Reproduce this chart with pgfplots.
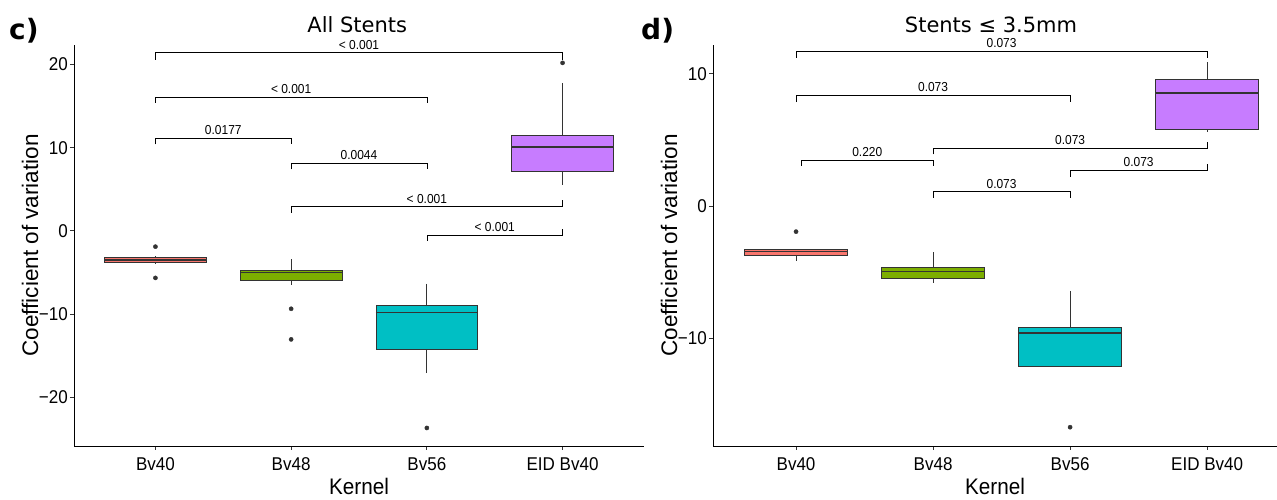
\documentclass[border=0pt]{standalone}
\usepackage{pgfplots}
\pgfplotsset{compat=1.18}
\usepgfplotslibrary{statistics}
\usepackage{fontspec}
\setmainfont[FakeStretch=0.92]{Liberation Sans}
\newfontfamily\ylfont{Liberation Sans}
\newfontfamily\titlefont{DejaVu Sans}
\definecolor{cA}{HTML}{F8766D}
\definecolor{cB}{HTML}{7CAE00}
\definecolor{cC}{HTML}{00BFC4}
\definecolor{cD}{HTML}{C77CFF}
\definecolor{gr}{HTML}{333333}
\newcommand{\pv}{\fontsize{13}{13}\selectfont}
\tikzset{pl/.style={font=\pv, anchor=base, yshift=3.5pt}}
\pgfplotsset{
  panel/.style={
    scale only axis, height=401pt, clip=false,
    axis x line*=bottom, axis y line*=left,
    axis line style={black, line width=0.8pt},
    xtick={1,2,3,4}, xticklabels={Bv40,Bv48,Bv56,EID Bv40},
    ytick={-20,-10,0,10,20}, yticklabels={−20,−10,0,10,20},
    tick style={gr, line width=0.8pt}, major tick length=4pt, tick align=outside,
    ticklabel style={font=\fontsize{18.5}{18.5}\selectfont, inner sep=1pt},
    xticklabel style={yshift=-6pt},
    yticklabel style={xshift=-1pt},
    xlabel={Kernel}, ylabel={Coefficient of variation},
    xlabel style={font=\fontsize{22.5}{22.5}\selectfont, at={(axis description cs:0.5,-0.12)}, anchor=base},
    ylabel style={font=\ylfont\fontsize{22.5}{22.5}\selectfont},
    boxplot/draw direction=y,
    boxplot/box extend=0.75, boxplot/whisker extend=0,
    boxplot/every median/.style={line width=1.6pt, draw=gr},
    boxplot/every whisker/.style={draw=gr, line width=0.8pt},
    boxplot/every box/.style={draw=gr, line width=0.8pt},
  },
  bx/.style={draw=gr, line width=0.8pt, fill=#1, mark=*, mark size=2.1pt, mark options={fill=gr, draw=gr, line width=0.4pt}},
  br/.style={black, line width=0.7pt, mark=none},
}
\begin{document}
\begin{tikzpicture}
\path[use as bounding box] (0,0) rectangle (1277pt,500pt);
% ---------- left panel ----------
\begin{axis}[panel, at={(74pt,54pt)}, anchor=south west, width=570pt,
  xmin=0.4, xmax=4.6, ymin=-25.87, ymax=22.35,
  ylabel style={at={(axis description cs:-0.077,0.5)}, anchor=center}]
\addplot[bx=cA, boxplot prepared={draw position=1, lower whisker=-3.96, lower quartile=-3.8, median=-3.47, upper quartile=-3.15, upper whisker=-3.0}] coordinates {(0,-1.9) (0,-5.66)};
\addplot[bx=cB, boxplot prepared={draw position=2, lower whisker=-6.46, lower quartile=-5.94, median=-5.0, upper quartile=-4.77, upper whisker=-3.4}] coordinates {(0,-9.37) (0,-13.05)};
\addplot[bx=cC, boxplot prepared={draw position=3, lower whisker=-17.1, lower quartile=-14.3, median=-9.8, upper quartile=-9.0, upper whisker=-6.34}] coordinates {(0,-23.7)};
\addplot[bx=cD, boxplot prepared={draw position=4, lower whisker=5.57, lower quartile=7.13, median=10.1, upper quartile=11.42, upper whisker=17.8}] coordinates {(0,20.2)};
\addplot[br] coordinates {(1,20.6) (1,21.44) (4,21.44) (4,20.6)};
\node[pl] at (axis cs:2.5,21.44) {< 0.001};
\addplot[br] coordinates {(1,15.4) (1,16.1) (3,16.1) (3,15.4)};
\node[pl] at (axis cs:2,16.1) {< 0.001};
\addplot[br] coordinates {(1,10.4) (1,11.14) (2,11.14) (2,10.4)};
\node[pl] at (axis cs:1.5,11.14) {0.0177};
\addplot[br] coordinates {(2,7.4) (2,8.1) (3,8.1) (3,7.4)};
\node[pl] at (axis cs:2.5,8.1) {0.0044};
\addplot[br] coordinates {(2,2.16) (2,2.9) (4,2.9) (4,3.7)};
\node[pl] at (axis cs:3,2.9) {< 0.001};
\addplot[br] coordinates {(3,-1.2) (3,-0.5) (4,-0.5) (4,0.25)};
\node[pl] at (axis cs:3.5,-0.5) {< 0.001};
\node[font=\titlefont\fontsize{21}{21}\selectfont, anchor=base] at (axis description cs:0.497,1.032) {All Stents};
\end{axis}
% ---------- right panel ----------
\begin{axis}[panel, at={(713pt,54pt)}, anchor=south west, width=564pt,
  xmin=0.394, xmax=4.51, ymin=-18.12, ymax=12.17,
  ytick={-10,0,10}, yticklabels={−10,0,10},
  ylabel style={at={(axis description cs:-0.078,0.5)}, anchor=center}]
\addplot[bx=cA, boxplot prepared={draw position=1, lower whisker=-4.12, lower quartile=-3.72, median=-3.42, upper quartile=-3.27, upper whisker=-3.27}] coordinates {(0,-1.93)};
\addplot[bx=cB, boxplot prepared={draw position=2, lower whisker=-5.8, lower quartile=-5.43, median=-4.95, upper quartile=-4.6, upper whisker=-3.47}] coordinates {};
\addplot[bx=cC, boxplot prepared={draw position=3, lower whisker=-12.1, lower quartile=-12.1, median=-9.57, upper quartile=-9.15, upper whisker=-6.4}] coordinates {(0,-16.7)};
\addplot[bx=cD, boxplot prepared={draw position=4, lower whisker=5.6, lower quartile=5.83, median=8.54, upper quartile=9.6, upper whisker=10.88}] coordinates {};
\addplot[br] coordinates {(1,11.2) (1,11.68) (4,11.68) (4,11.2)};
\node[pl] at (axis cs:2.5,11.68) {0.073};
\addplot[br] coordinates {(1,7.86) (1,8.37) (3,8.37) (3,7.86)};
\node[pl] at (axis cs:2,8.37) {0.073};
\addplot[br] coordinates {(1.04,3.04) (1.04,3.47) (2,3.47) (2,3.04)};
\node[pl] at (axis cs:1.52,3.47) {0.220};
\addplot[br] coordinates {(2,3.9) (2,4.4) (4,4.4) (4,4.85)};
\node[pl] at (axis cs:3,4.4) {0.073};
\addplot[br] coordinates {(3,2.2) (3,2.71) (4,2.71) (4,3.2)};
\node[pl] at (axis cs:3.5,2.71) {0.073};
\addplot[br] coordinates {(2,0.65) (2,1.08) (3,1.08) (3,0.65)};
\node[pl] at (axis cs:2.5,1.08) {0.073};
\node[font=\titlefont\fontsize{21}{21}\selectfont, anchor=base] at (axis description cs:0.493,1.032) {Stents ≤ 3.5mm};
\end{axis}
\node[font=\titlefont\bfseries\fontsize{28}{28}\selectfont, anchor=base west, inner sep=0pt] at (9pt,460pt) {c)};
\node[font=\titlefont\bfseries\fontsize{28}{28}\selectfont, anchor=base west, inner sep=0pt] at (641pt,460pt) {d)};
\end{tikzpicture}
\end{document}
